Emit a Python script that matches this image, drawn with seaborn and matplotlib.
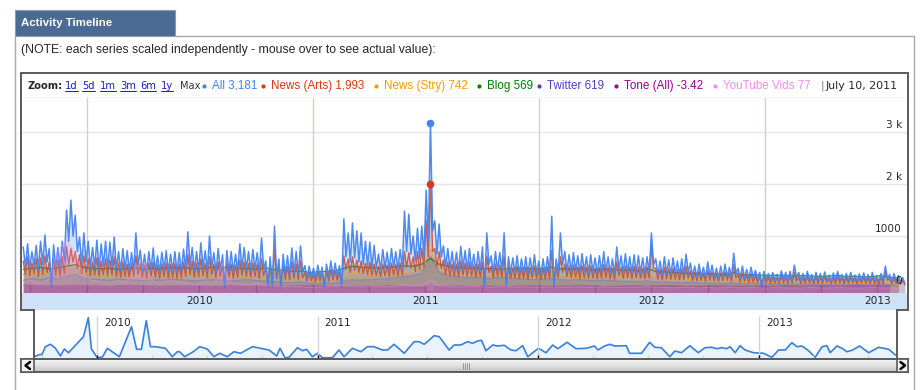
import numpy as np
import pandas as pd
import seaborn as sns
import matplotlib.pyplot as plt
import matplotlib.dates as mdates
import matplotlib.transforms as mtransforms
from matplotlib.colors import LinearSegmentedColormap
from matplotlib.patches import Rectangle

W, H = 922, 390
ARIAL = "Liberation Sans"
VERDANA = "DejaVu Sans"

# ---- data ----
legend_names = ["All", "News (Arts)", "News (Stry)", "Blog", "Twitter", "Tone (All)", "YouTube Vids"]
legend_values = ["3,181", "1,993", "742", "569", "619", "-3.42", "77"]
series_colors = ["#4684ee", "#dc3912", "#ff9900", "#008000", "#4942cc", "#990099", "#f78bf0"]
cursor_label = "July 10, 2011"
cursor_date = "2011-07-10"
zoom_links = ["1d", "5d", "1m", "3m", "6m", "1y"]
year_labels = ["2010", "2011", "2012", "2013"]
y_ticks = [0, 1000, 2000, 3000]
y_tick_labels = ["0", "1000", "2 k", "3 k"]
note = "(NOTE: each series scaled independently - mouse over to see actual value):"
week0 = "2009-09-20"

# weekly high / low (weekday peak, weekend dip)
all_peak = [
    790, 850, 700, 820, 900, 1020, 760, 830, 780, 900,
    1500, 1690, 1400, 980, 1060, 900, 780, 920, 850, 900,
    880, 980, 700, 760, 720, 680, 1060, 730, 650, 700,
    770, 620, 690, 720, 650, 700, 680, 750, 1080, 780,
    700, 870, 720, 1000, 680, 760, 640, 720, 700, 650,
    850, 780, 700, 740, 680, 960, 520, 600, 1190, 560,
    650, 620, 770, 700, 810, 430, 420, 380, 440, 400,
    460, 520, 480, 430, 1330, 1060, 1250, 1100, 1060, 900,
    880, 820, 650, 740, 690, 760, 700, 740, 1480, 1420,
    1000, 1150, 1190, 1880, 3181, 1290, 1230, 810, 760, 700,
    690, 800, 720, 760, 650, 700, 790, 1060, 620, 700,
    680, 1060, 600, 580, 620, 560, 600, 580, 640, 520,
    560, 600, 1380, 560, 1060, 700, 640, 680, 620, 660,
    600, 640, 580, 620, 700, 600, 560, 790, 620, 660,
    600, 640, 620, 580, 600, 1060, 560, 520, 600, 540,
    580, 520, 560, 650, 480, 420, 460, 400, 500, 440,
    380, 420, 460, 400, 670, 380, 420, 360, 400, 340,
    300, 320, 280, 300, 260, 330, 300, 320, 440, 300,
    280, 320, 260, 300, 280, 310, 250, 290, 320, 260,
    280, 300, 250, 270, 290, 260, 300, 240, 280, 420,
    260, 280, 240, 200,
]
all_trough = [
    400, 380, 420, 360, 450, 500, 0, 400, 380, 520,
    900, 1000, 700, 450, 500, 380, 400, 360, 420, 380,
    400, 350, 330, 360, 320, 340, 420, 330, 300, 340,
    320, 300, 350, 310, 330, 300, 320, 360, 420, 330,
    340, 380, 320, 400, 300, 340, 0, 320, 300, 330,
    380, 350, 330, 360, 300, 380, 0, 0, 200, 0,
    250, 230, 280, 260, 300, 180, 200, 170, 210, 0,
    200, 230, 220, 0, 600, 500, 580, 500, 450, 420,
    400, 380, 350, 380, 350, 400, 360, 400, 700, 650,
    520, 560, 600, 900, 1100, 650, 600, 420, 380, 360,
    340, 380, 350, 360, 320, 340, 0, 450, 300, 340,
    320, 0, 280, 300, 260, 280, 250, 300, 280, 240,
    260, 280, 0, 300, 450, 320, 300, 330, 290, 310,
    290, 300, 280, 300, 320, 280, 260, 360, 290, 300,
    280, 300, 290, 270, 300, 450, 260, 240, 280, 250,
    270, 240, 260, 300, 220, 200, 210, 190, 220, 200,
    180, 200, 210, 190, 280, 180, 200, 170, 190, 160,
    0, 150, 140, 150, 130, 160, 140, 150, 200, 140,
    130, 150, 120, 140, 130, 150, 120, 140, 150, 120,
    130, 140, 120, 130, 140, 120, 140, 110, 130, 180,
    120, 130, 110, 90,
]
arts_peak = [
    520, 600, 480, 560, 580, 620, 500, 560, 540, 600,
    800, 760, 700, 640, 620, 560, 500, 580, 520, 560,
    540, 600, 480, 500, 460, 480, 620, 470, 440, 480,
    500, 440, 460, 480, 450, 470, 460, 500, 640, 520,
    480, 560, 470, 600, 460, 500, 440, 480, 460, 440,
    540, 500, 470, 480, 460, 560, 400, 440, 760, 420,
    440, 420, 500, 460, 520, 300, 290, 270, 300, 280,
    320, 360, 330, 300, 620, 560, 600, 540, 520, 480,
    500, 460, 420, 460, 440, 480, 460, 480, 700, 680,
    600, 700, 760, 1300, 1993, 760, 700, 540, 500, 460,
    460, 520, 480, 500, 440, 460, 500, 620, 420, 460,
    440, 600, 400, 380, 420, 380, 400, 380, 420, 360,
    380, 400, 720, 380, 600, 460, 420, 440, 400, 430,
    400, 420, 380, 400, 450, 400, 380, 500, 400, 420,
    400, 420, 400, 380, 400, 810, 380, 360, 400, 370,
    380, 350, 370, 420, 330, 300, 320, 280, 340, 300,
    270, 290, 310, 280, 450, 260, 290, 250, 270, 240,
    210, 230, 200, 210, 190, 230, 210, 220, 300, 210,
    200, 220, 190, 210, 200, 220, 180, 200, 220, 190,
    200, 210, 180, 190, 200, 190, 210, 170, 200, 330,
    180, 190, 170, 150,
]
arts_trough = [
    260, 240, 280, 220, 260, 300, 120, 250, 230, 280,
    450, 500, 380, 280, 300, 240, 250, 230, 260, 240,
    250, 220, 210, 230, 200, 220, 260, 210, 190, 220,
    210, 190, 220, 200, 210, 190, 200, 230, 260, 210,
    220, 240, 200, 250, 190, 220, 100, 200, 190, 210,
    240, 220, 210, 230, 190, 240, 90, 100, 180, 110,
    170, 160, 190, 170, 200, 130, 140, 120, 140, 80,
    140, 160, 150, 90, 360, 300, 340, 300, 280, 260,
    250, 240, 220, 240, 220, 250, 230, 250, 400, 380,
    320, 360, 400, 600, 700, 420, 380, 260, 240, 230,
    220, 250, 230, 240, 210, 220, 110, 300, 200, 220,
    210, 100, 190, 200, 180, 190, 170, 200, 190, 160,
    180, 190, 100, 200, 300, 220, 200, 210, 190, 200,
    190, 200, 180, 190, 210, 180, 170, 240, 190, 200,
    190, 200, 190, 180, 190, 380, 170, 160, 180, 170,
    170, 160, 170, 190, 150, 140, 150, 130, 150, 140,
    130, 140, 150, 130, 200, 120, 130, 110, 120, 110,
    80, 100, 90, 100, 90, 100, 90, 100, 130, 90,
    90, 100, 80, 90, 90, 100, 80, 90, 100, 80,
    90, 100, 80, 90, 90, 80, 90, 70, 90, 150,
    80, 90, 70, 60,
]
# fortnightly values
stry = [
    260, 300, 280, 320, 260, 380, 420, 300, 280, 260,
    250, 300, 240, 230, 260, 240, 230, 250, 220, 300,
    240, 260, 220, 240, 210, 230, 220, 260, 200, 300,
    220, 200, 240, 160, 150, 170, 160, 240, 300, 280,
    260, 240, 250, 270, 300, 320, 380, 742, 360, 280,
    260, 240, 250, 300, 230, 280, 240, 220, 230, 210,
    220, 280, 240, 230, 220, 240, 220, 230, 250, 230,
    220, 210, 300, 200, 210, 190, 200, 180, 170, 160,
    160, 150, 200, 140, 150, 130, 120, 110, 120, 130,
    110, 120, 100, 110, 120, 100, 110, 100, 100, 130,
    90, 80,
]
blog = [
    360, 380, 400, 370, 390, 420, 450, 400, 380, 370,
    380, 360, 370, 390, 360, 380, 370, 400, 380, 390,
    370, 380, 400, 390, 410, 380, 370, 360, 390, 350,
    340, 320, 330, 300, 310, 320, 330, 380, 420, 400,
    390, 380, 400, 410, 430, 420, 460, 569, 460, 420,
    400, 380, 390, 370, 380, 360, 370, 380, 390, 370,
    380, 400, 370, 360, 380, 370, 350, 360, 370, 340,
    350, 330, 380, 320, 310, 300, 290, 280, 290, 270,
    280, 260, 300, 250, 260, 250, 240, 250, 240, 230,
    240, 230, 220, 230, 240, 220, 230, 210, 220, 240,
    200, 190,
]
twitter = [
    150, 180, 160, 200, 170, 220, 260, 190, 170, 160,
    150, 170, 160, 150, 140, 160, 150, 170, 160, 150,
    140, 150, 160, 150, 140, 150, 160, 140, 130, 120,
    110, 100, 120, 90, 80, 100, 90, 130, 160, 150,
    160, 170, 180, 200, 220, 240, 280, 619, 300, 240,
    220, 200, 210, 190, 180, 200, 190, 180, 170, 160,
    170, 180, 160, 150, 160, 150, 140, 150, 140, 130,
    130, 120, 140, 110, 120, 110, 100, 110, 100, 90,
    90, 80, 100, 80, 90, 80, 70, 80, 70, 80,
    70, 80, 70, 60, 70, 60, 70, 60, 70, 80,
    60, 50,
]
youtube = [
    10, 12, 8, 15, 60, 77, 55, 20, 12, 10,
    8, 12, 10, 35, 40, 10, 8, 12, 10, 8,
    6, 10, 8, 40, 8, 6, 5, 8, 4, 3,
    2, 3, 2, 1, 1, 2, 3, 4, 3, 2,
    2, 3, 2, 3, 4, 3, 5, 12, 4, 3,
    2, 2, 3, 2, 1, 2, 2, 1, 2, 1,
    1, 2, 1, 1, 2, 1, 1, 2, 1, 1,
    1, 1, 2, 1, 1, 0, 1, 1, 0, 1,
    0, 1, 1, 0, 1, 0, 0, 1, 0, 0,
    0, 1, 0, 0, 1, 0, 0, 0, 1, 0,
    0, 0,
]
# four-weekly tone
tone = [
    -2.1, -2.5, -2.8, -2.3, -2.6, -2.9, -2.4, -2.7, -3.0, -2.6,
    -2.8, -3.1, -2.5, -2.9, -2.7, -3.0, -2.6, -2.8, -3.2, -2.9,
    -3.1, -2.7, -3.0, -3.4, -3.0, -2.8, -3.1, -2.9, -3.2, -2.7,
    -2.9, -3.0, -2.6, -2.8, -3.1, -2.7, -2.9, -2.5, -2.8, -3.0,
    -2.6, -2.9, -2.7, -3.0, -2.5, -2.8, -2.6, -2.9, -2.4, -2.7,
    -2.5,
]
# range selector overview line (decimal year, level)
nav_year = [
    2009.714, 2009.732, 2009.749, 2009.764, 2009.787, 2009.809, 2009.832, 2009.850, 2009.869, 2009.937,
    2009.959, 2009.973, 2010.000, 2010.023, 2010.045, 2010.100, 2010.155, 2010.178, 2010.200, 2010.222,
    2010.241, 2010.264, 2010.309, 2010.340, 2010.363, 2010.373, 2010.396, 2010.431, 2010.465, 2010.499,
    2010.529, 2010.555, 2010.590, 2010.620, 2010.650, 2010.704, 2010.741, 2010.779, 2010.814, 2010.829,
    2010.852, 2010.870, 2010.908, 2010.931, 2010.950, 2010.976, 2010.999, 2011.022, 2011.067, 2011.097,
    2011.120, 2011.158, 2011.196, 2011.226, 2011.256, 2011.294, 2011.317, 2011.347, 2011.393, 2011.438,
    2011.461, 2011.484, 2011.529, 2011.552, 2011.597, 2011.620, 2011.650, 2011.681, 2011.703, 2011.726,
    2011.744, 2011.764, 2011.795, 2011.817, 2011.847, 2011.878, 2011.900, 2011.931, 2011.954, 2012.002,
    2012.037, 2012.067, 2012.090, 2012.132, 2012.173, 2012.219, 2012.256, 2012.272, 2012.302, 2012.325,
    2012.347, 2012.400, 2012.415, 2012.469, 2012.506, 2012.529, 2012.559, 2012.597, 2012.620, 2012.650,
    2012.688, 2012.726, 2012.756, 2012.787, 2012.809, 2012.832, 2012.855, 2012.870, 2012.893, 2012.915,
    2012.938, 2012.976, 2013.022, 2013.059, 2013.090, 2013.120, 2013.150, 2013.173, 2013.196, 2013.226,
    2013.256, 2013.287, 2013.309, 2013.324, 2013.355, 2013.378, 2013.400, 2013.423, 2013.458, 2013.499,
    2013.544, 2013.590, 2013.620,
]
nav_level = [
    2.3, 4.0, 4.7, 12.3, 14.7, 11.0, 3.0, 10.0, 6.3, 22.3,
    41.3, 10.0, 1.3, 2.0, 10.7, 2.3, 32.3, 9.7, 9.7, 38.3,
    12.3, 12.3, 10.7, 2.3, 7.3, 7.3, 2.3, 6.7, 12.3, 10.0,
    2.3, 5.7, 2.3, 7.3, 5.7, 12.3, 10.7, 9.0, 3.0, 10.7,
    1.3, 1.7, 11.3, 8.3, 9.7, 2.3, 5.7, 1.3, 1.3, 9.0,
    2.3, 10.7, 7.3, 12.3, 12.3, 9.0, 9.0, 14.7, 5.7, 17.3,
    17.3, 14.7, 23.3, 22.3, 9.0, 14.0, 14.0, 17.3, 15.7, 18.0,
    18.7, 8.3, 14.0, 13.0, 13.7, 9.0, 8.3, 13.3, 2.3, 10.7,
    6.3, 14.0, 10.3, 16.7, 10.3, 10.7, 13.0, 9.0, 13.0, 14.7,
    13.0, 13.3, 5.7, 5.7, 16.7, 11.7, 11.3, 2.3, 8.0, 6.3,
    13.3, 6.3, 11.3, 11.7, 10.3, 11.3, 10.3, 12.3, 6.3, 13.3,
    9.0, 6.3, 5.7, 1.7, 9.0, 9.0, 16.3, 12.3, 13.0, 8.3,
    1.7, 12.3, 13.3, 6.3, 13.0, 10.7, 7.3, 8.7, 13.0, 6.3,
    11.7, 9.7, 4.0,
]


def px_axes(fig, x0, y0, x1, y1):
    return fig.add_axes([x0 / W, 1 - y1 / H, (x1 - x0) / W, (y1 - y0) / H])


def zigzag(peaks, troughs):
    weeks = pd.date_range(week0, periods=len(peaks), freq="7D")
    df = pd.DataFrame({"date": list(weeks) + list(weeks + pd.Timedelta(hours=84)),
                       "value": peaks + troughs})
    return df.sort_values("date").reset_index(drop=True)


def regular(values, step):
    return pd.DataFrame({"date": pd.date_range(week0, periods=len(values), freq=step),
                         "value": values})


def decimal_years(years):
    out = []
    for y in years:
        base = pd.Timestamp(year=int(y), month=1, day=1)
        span = (pd.Timestamp(year=int(y) + 1, month=1, day=1) - base).days
        out.append(base + pd.Timedelta(days=(y - int(y)) * span))
    return pd.DatetimeIndex(out)


sns.set_style("white")
fig = plt.figure(figsize=(W / 100, H / 100), dpi=100)
renderer = fig.canvas.get_renderer()

x_start, x_end = pd.Timestamp("2009-09-18"), pd.Timestamp("2013-08-18")
year_starts = [pd.Timestamp(f"{y}-01-01") for y in year_labels]
quarters = pd.date_range("2009-10-01", "2013-07-01", freq="QS")
cursor = pd.Timestamp(cursor_date)
cursor_vals = [float(v.replace(",", "")) for v in legend_values]

# ---- page decoration ----
bg = fig.add_axes([0, 0, 1, 1])
bg.set_xlim(0, W)
bg.set_ylim(H, 0)
bg.axis("off")
bg.add_patch(Rectangle((15, 10), 160, 26, facecolor="#4b6b94", edgecolor="#8c9bb0", lw=0.8))
bg.text(21, 23.5, "Activity Timeline", color="white", fontweight="bold", fontsize=8.2,
        family=ARIAL, va="center")
bg.plot([175, 914], [36, 36], color="#a8a8a8", lw=1)
bg.plot([15, 15], [36, H], color="#a8a8a8", lw=1)
bg.plot([914, 914], [36, H], color="#a8a8a8", lw=1)
bg.text(21, 50, note, fontsize=8.8, family=ARIAL, va="center")

# legend / zoom row
ly = 86
bg.text(27, ly, "Zoom:", fontweight="bold", fontsize=7.1, family=VERDANA, va="center")
for x, lbl in zip([65, 82, 100, 120, 140, 161], zoom_links):
    t = bg.text(x, ly, lbl, fontsize=7.1, family=VERDANA, va="center", color="#1a1acc")
    w = t.get_window_extent(renderer=renderer).width
    bg.plot([x, x + w], [ly + 5, ly + 5], color="#1a1acc", lw=0.7)
bg.text(180, ly, "Max", fontsize=7.1, family=VERDANA, va="center", color="#333333")
for x, name, val, col in zip([204, 263, 376, 479, 539, 616, 715],
                             legend_names, legend_values, series_colors):
    bg.plot([x], [ly], "o", ms=3, color=col, mec="none")
    bg.text(x + 8, ly, f"{name} {val}", fontsize=8.4, family=ARIAL, va="center", color=col)
bg.text(821, ly, "|", fontsize=8, family=VERDANA, va="center", color="#777777")
bg.text(826, ly, cursor_label, fontsize=7.9, family=VERDANA, va="center")
bg.plot([22, 907], [98, 98], color="#d4d4d4", lw=1)

# ---- main chart ----
ax = px_axes(fig, 22, 98, 907, 293)
y_lo, y_hi = -96, 3654
for v in y_ticks[1:]:
    ax.axhline(v, color="#e4e4f0", lw=1, zorder=0)
for d in year_starts:
    ax.axvline(d, color="#cbd3cb", lw=1, zorder=0)

# (frame, colour index, line colour, width, line alpha)
layers = [(regular(twitter, "14D"), 4, "#8878b8", 0.9, 0.7),
          (regular(blog, "14D"), 3, series_colors[3], 0.9, 0.8),
          (regular(stry, "14D"), 2, "#f0a040", 0.9, 0.9),
          (zigzag(arts_peak, arts_trough), 1, "#c84a32", 1.0, 0.85),
          (zigzag(all_peak, all_trough), 0, series_colors[0], 1.1, 0.95)]
for df, i, lc, lw, la in layers:
    ax.fill_between(df["date"], df["value"], y_lo, color=series_colors[i], alpha=0.23, lw=0)
    sns.lineplot(data=df, x="date", y="value", ax=ax, color=lc, lw=lw,
                 estimator=None, alpha=la)
for i in (0, 1):
    ax.plot([cursor], [cursor_vals[i]], "o", ms=4.5, color=series_colors[i], zorder=6)

ax.set_xlim(x_start, x_end)
ax.set_ylim(y_lo, y_hi)
ax.set_xlabel("")
ax.set_ylabel("")
ax.set_yticks([])
ax.set_xticks([])
ax.set_xticks(quarters, minor=True)
ax.tick_params(which="minor", direction="in", length=6, width=1, color="#7e6470",
               bottom=True, labelbottom=False)
for s in ax.spines.values():
    s.set_visible(False)

# tone and YouTube have their own scales
ax_tone = ax.twinx()
df_tone = regular(tone, "28D")
ax_tone.fill_between(df_tone["date"], df_tone["value"], -7.42, color=series_colors[5], alpha=0.3, lw=0)
sns.lineplot(data=df_tone, x="date", y="value", ax=ax_tone, color=series_colors[5], lw=0.8,
             estimator=None, alpha=0.35)
ax_tone.plot([cursor], [cursor_vals[5]], "o", ms=4.5, color="#a07898", zorder=6)
ax_tone.set_ylim(-7.42, 122.58)
ax_tone.axis("off")

ax_yt = ax.twinx()
df_yt = regular(youtube, "14D")
ax_yt.fill_between(df_yt["date"], df_yt["value"], -8, color=series_colors[6], alpha=0.18, lw=0)
sns.lineplot(data=df_yt, x="date", y="value", ax=ax_yt, color=series_colors[6], lw=0.8,
             estimator=None, alpha=0.45)
ax_yt.set_ylim(-8, 305)
ax_yt.set_xlim(x_start, x_end)
ax_yt.axis("off")

lab_tr = mtransforms.blended_transform_factory(ax.transAxes, ax.transData) + \
    mtransforms.ScaledTranslation(0, 4 / 100, fig.dpi_scale_trans)
for v, lbl in zip(y_ticks, y_tick_labels):
    ax_yt.text(0.9945, v, lbl, transform=lab_tr, ha="right", va="baseline",
               fontsize=7.6, family=VERDANA, zorder=10)

# date band under the chart
band = px_axes(fig, 22, 293, 907, 310)
band.set_facecolor("#cfe1f6")
band.set_xlim(mdates.date2num(x_start), mdates.date2num(x_end))
band.set_ylim(0, 1)
band.set_xticks([])
band.set_yticks([])
for s in band.spines.values():
    s.set_visible(False)
for y in year_labels:
    band.text(mdates.date2num(pd.Timestamp(f"{y}-07-02")), 0.5, y, ha="center", va="center",
              fontsize=7.6, family=VERDANA)

# ---- range selector ----
nav = px_axes(fig, 34, 310, 897, 359)
nav_dates = decimal_years(nav_year)
nav.fill_between(nav_dates, nav_level, 0, color="#e8f3fd", lw=0)
sns.lineplot(x=nav_dates, y=nav_level, ax=nav, color="#3b7fd8", lw=1.2, estimator=None)
nav.vlines(year_starts, 0, 43, color="#d4d4d4", lw=1)
nav.vlines(year_starts, 0, 4.5, color="black", lw=1)
nav.vlines([q for q in quarters if q.month != 1], 0, 4.5, color="#c6e2b4", lw=1)
nav.set_xlim(x_start, x_end)
nav.set_ylim(0, 49)
nav.axis("off")
lbl_tr = mtransforms.offset_copy(nav.transData, fig=fig, x=7, y=0, units="dots")
for d, lbl in zip(year_starts, year_labels):
    nav.text(mdates.date2num(d), 36, lbl, transform=lbl_tr, va="center",
             fontsize=7.6, family=VERDANA)

# scrollbar
sb = px_axes(fig, 21, 359, 908, 372)
sb.imshow(np.linspace(0, 1, 13).reshape(-1, 1), aspect="auto", extent=[0, 1, 0, 1],
          cmap=LinearSegmentedColormap.from_list("sb", ["#f4f4f4", "#e2e2e2", "#c2c2c2"]))
sb.axis("off")

# ---- frame overlay ----
ov = fig.add_axes([0, 0, 1, 1])
ov.set_xlim(0, W)
ov.set_ylim(H, 0)
ov.axis("off")
edge = "#5a5a5a"
ov.plot([34, 34, 21, 21, 908, 908, 897, 897], [359, 310, 310, 73, 73, 310, 310, 359],
        color=edge, lw=1.4, solid_joinstyle="miter")
ov.add_patch(Rectangle((21, 359), 887, 13, fill=False, edgecolor=edge, lw=1.4))
ov.add_patch(Rectangle((21, 359), 13, 13, facecolor="#f2f2f2", edgecolor=edge, lw=1.2))
ov.add_patch(Rectangle((897, 359), 11, 13, facecolor="#f2f2f2", edgecolor=edge, lw=1.2))
ov.plot([30, 25.5, 30], [362, 365.5, 369], color="black", lw=1.8)
ov.plot([900.5, 905, 900.5], [362, 365.5, 369], color="black", lw=1.8)
for gx in (463, 465, 467, 469):
    ov.plot([gx, gx], [362.5, 368.5], color="#8a8a8a", lw=0.6)

fig.savefig("out.png", dpi=100, facecolor="white")
